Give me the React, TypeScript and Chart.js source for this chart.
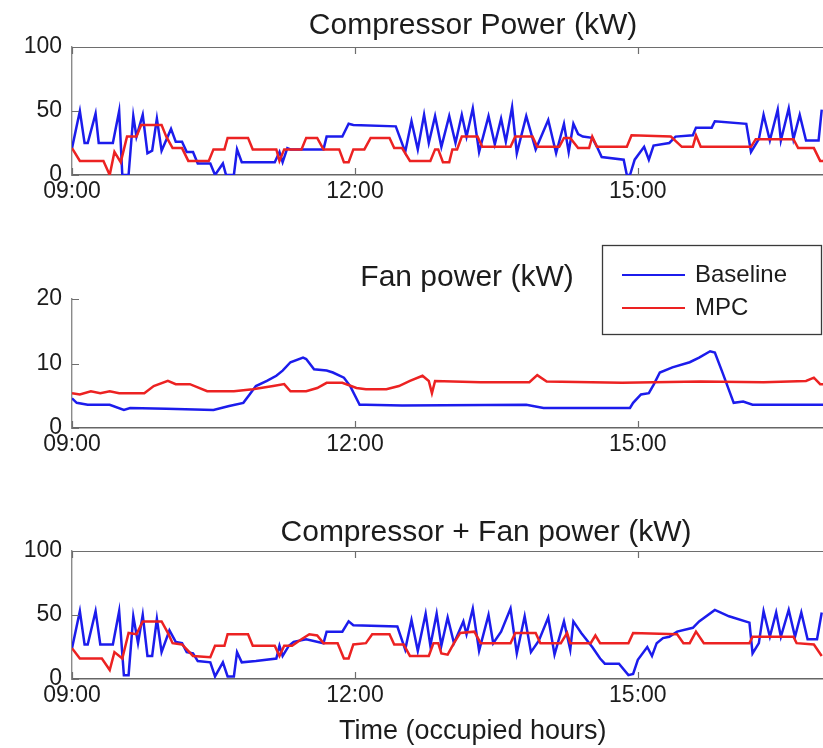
import React, { useEffect, useRef } from "react";
import { Chart, registerables } from "chart.js";

Chart.register(...registerables);

// ---------- data (x = minutes after 09:00, y = kW) ----------
const xTickValues = [0, 180, 360];
const xTickLabels = ["09:00", "12:00", "15:00"];
const seriesNames = ["Baseline", "MPC"];
const panelTitles = ["Compressor Power (kW)", "Fan power (kW)", "Compressor + Fan power (kW)"];
const xAxisTitle = "Time (occupied hours)";
const powerTicks = [0, 50, 100];
const fanTicks = [0, 10, 20];

const compBaseT = [0,5,8,10,15,17,26,30,32,36,39,41,45,48,51,54,57,63,66,70,73,77,80,88,91,96,98,103,105,108,129,132,134,137,139,160,162,172,176,179,206,212,216,220,224,227,231,235,240,244,248,251,255,259,265,269,273,276,280,283,289,295,303,308,313,316,319,322,325,331,334,337,351,353,355,358,364,367,370,380,384,395,397,407,409,429,432,437,440,444,449,451,456,459,463,467,475,477];
const compBaseV = [21,50,25,25,48,25,25,50,0,0,46,30,47,17,19,44,19,36,26,26,18,18,9,9,0,9,0,0,20,10,10,18,10,21,20,20,30,30,40,39,38,18,42,20,47,25,46,22,46,25,47,30,52,18,46,24,44,26,53,17,46,20,43,17,40,18,40,32,30,29,22,14,12,0,0,12,22,12,23,25,30,31,37,37,42,40,18,28,47,27,51,27,52,28,47,27,27,51];

const compMpcT = [0,5,20,24,27,31,35,41,44,57,60,64,70,74,87,90,97,99,112,115,130,132,135,146,149,156,160,170,173,176,179,186,190,202,205,210,215,228,231,233,236,240,242,245,248,258,261,279,282,293,296,310,313,317,322,329,331,334,353,356,381,388,395,397,400,432,435,459,462,472,476,478];
const compMpcV = [21,11,11,0,18,10,30,30,39,39,30,21,21,11,11,20,20,29,29,20,20,11,20,20,29,29,20,20,10,10,20,20,29,29,21,21,11,11,20,20,10,10,20,20,30,30,22,22,30,30,22,22,29,29,21,21,30,22,22,31,30,22,22,31,22,22,28,28,21,21,11,11];

const fanBaseT = [0,3,10,24,33,37,60,90,100,109,113,117,124,130,134,139,147,149,154,162,166,173,177,183,187,210,289,300,355,357,362,367,370,374,382,393,399,406,409,414,421,427,433,478];
const fanBaseV = [4.6,3.9,3.6,3.6,2.8,3.1,3.0,2.8,3.4,3.9,5.2,6.5,7.3,8.1,8.9,10.2,10.9,10.7,9.1,8.9,8.6,7.8,6.5,3.6,3.6,3.5,3.6,3.1,3.1,3.9,5.2,5.4,6.7,8.6,9.4,10.2,10.9,11.9,11.7,8.5,3.9,4.1,3.6,3.6];

const fanMpcT = [0,5,12,18,24,30,46,52,61,66,75,80,86,103,115,128,135,139,149,156,162,172,181,187,200,208,215,223,227,229,231,260,291,296,302,350,400,440,467,472,476,478];
const fanMpcV = [5.4,5.2,5.7,5.4,5.7,5.4,5.4,6.5,7.3,6.8,6.8,6.3,5.7,5.7,6.0,6.5,6.8,5.7,5.7,6.2,7.0,7.0,6.2,6.0,6.0,6.5,7.3,8.1,7.3,5.4,7.3,7.1,7.1,8.2,7.2,7.0,7.2,7.1,7.3,7.8,6.8,6.8];

const totBaseT = [0,5,8,10,15,18,26,30,33,36,39,42,45,48,51,54,57,62,66,70,73,77,80,88,91,96,99,103,105,108,117,130,132,134,138,141,149,160,162,172,176,179,207,212,216,220,225,228,232,235,239,243,249,251,255,259,265,268,273,279,283,288,292,297,303,307,313,317,319,324,331,336,339,348,354,357,360,366,369,372,376,380,385,395,399,409,418,431,433,437,440,444,448,451,456,460,464,468,474,477];
const totBaseV = [24,53,27,27,53,27,27,53,3,3,49,28,50,18,18,47,21,38,29,28,21,20,14,13,2,13,2,2,21,13,14,16,26,18,26,29,31,28,37,37,45,42,41,23,46,22,51,26,51,26,48,28,45,35,55,22,50,28,37,55,20,49,21,30,48,19,45,23,45,36,25,16,12,12,3,4,15,25,18,28,32,33,37,40,45,54,49,44,20,28,53,33,52,33,54,33,52,31,31,52];

const totMpcT = [0,5,19,24,27,32,36,41,45,57,61,64,70,77,88,91,97,99,112,115,129,132,135,140,146,151,156,160,169,173,176,179,187,191,202,205,211,215,227,230,233,235,239,243,247,256,260,279,282,295,298,311,315,317,330,333,336,354,357,385,389,393,397,402,431,433,459,461,472,477];
const totMpcV = [24,16,16,7,21,16,36,35,45,45,36,28,27,18,17,26,26,35,35,26,26,18,26,26,31,35,34,28,28,16,16,27,28,35,35,27,27,18,18,28,28,20,19,28,36,37,28,28,36,36,28,28,36,28,28,34,28,28,36,35,28,28,37,28,28,33,33,28,27,18];

// ---------- styles ----------
const BLUE = "rgb(28,28,236)";
const RED = "rgb(236,34,34)";
const FONT = "'Liberation Sans', Arial, Helvetica, sans-serif";
const TEXT = "#1c1c1c";
const CANVAS_W = 880;
const X_MAX = 510;

function pts(t: number[], v: number[]) {
  return t.map((x, i) => ({ x, y: v[i] }));
}

const matlabAxes = {
  id: "matlabAxes",
  afterDraw(chart: any, _args: any, opts: any) {
    const { ctx, chartArea: a, scales } = chart;
    ctx.save();
    ctx.strokeStyle = "#6e6e6e";
    ctx.lineWidth = 1.2;
    ctx.beginPath();
    scales.y.ticks.forEach((tk: any) => {
      const py = Math.round(scales.y.getPixelForValue(tk.value)) + 0.5;
      ctx.moveTo(a.left, py);
      ctx.lineTo(a.left + 7, py);
    });
    scales.x.ticks.forEach((tk: any) => {
      const px = Math.round(scales.x.getPixelForValue(tk.value)) + 0.5;
      ctx.moveTo(px, a.bottom);
      ctx.lineTo(px, a.bottom - 7);
      if (opts.box) {
        ctx.moveTo(px, a.top);
        ctx.lineTo(px, a.top + 7);
      }
    });
    if (opts.box) {
      ctx.moveTo(a.left, a.top + 0.5);
      ctx.lineTo(a.right, a.top + 0.5);
    }
    ctx.stroke();

    ctx.fillStyle = TEXT;
    ctx.font = `30px ${FONT}`;
    ctx.textAlign = "center";
    ctx.textBaseline = "alphabetic";
    ctx.fillText(opts.title, opts.titleX, opts.titleY);

    if (opts.legend) {
      const L = opts.legend;
      ctx.fillStyle = "#ffffff";
      ctx.fillRect(L.x, L.y, L.w, L.h);
      ctx.strokeStyle = "#3a3a3a";
      ctx.lineWidth = 1.3;
      ctx.strokeRect(L.x + 0.5, L.y + 0.5, L.w, L.h);
      chart.data.datasets.forEach((ds: any, i: number) => {
        const y = L.y + 30 + i * 33;
        ctx.strokeStyle = ds.borderColor;
        ctx.lineWidth = 2;
        ctx.beginPath();
        ctx.moveTo(L.x + 20, y);
        ctx.lineTo(L.x + 83, y);
        ctx.stroke();
        ctx.fillStyle = TEXT;
        ctx.font = `24px ${FONT}`;
        ctx.textAlign = "left";
        ctx.textBaseline = "middle";
        ctx.fillText(ds.label, L.x + 93, y);
      });
    }
    ctx.restore();
  },
};

type PanelCfg = {
  base: { x: number; y: number }[];
  mpc: { x: number; y: number }[];
  yTicks: number[];
  title: string;
  titleX: number;
  titleY: number;
  padTop: number;
  xAxisH: number;
  box: boolean;
  legend?: { x: number; y: number; w: number; h: number };
  xTitle?: string;
};

function makeConfig(p: PanelCfg): any {
  return {
    type: "line",
    data: {
      datasets: [
        { label: seriesNames[0], data: p.base, borderColor: BLUE, borderWidth: 2.5, pointRadius: 0, tension: 0, order: 2 },
        { label: seriesNames[1], data: p.mpc, borderColor: RED, borderWidth: 2.5, pointRadius: 0, tension: 0, order: 1 },
      ],
    },
    options: {
      animation: false,
      responsive: false,
      events: [],
      layout: { padding: { top: p.padTop, left: 0, right: CANVAS_W - 72 - 801.6, bottom: 0 } },
      plugins: {
        legend: { display: false },
        title: { display: false },
        tooltip: { enabled: false },
        matlabAxes: { title: p.title, titleX: p.titleX, titleY: p.titleY, box: p.box, legend: p.legend },
      },
      scales: {
        x: {
          type: "linear",
          min: 0,
          max: X_MAX,
          grid: { display: false, drawTicks: false },
          border: { display: true, color: "#666666", width: 1.4 },
          afterBuildTicks: (s: any) => {
            s.ticks = xTickValues.map((v) => ({ value: v }));
          },
          afterFit: (s: any) => {
            s.height = p.xAxisH;
          },
          ticks: {
            autoSkip: false,
            maxRotation: 0,
            padding: 3,
            color: TEXT,
            font: { family: FONT, size: 23 },
            callback: (v: number) => xTickLabels[xTickValues.indexOf(v)],
          },
          title: p.xTitle
            ? { display: true, text: p.xTitle, color: TEXT, font: { family: FONT, size: 27 }, padding: { top: 0, bottom: 0 } }
            : { display: false },
        },
        y: {
          type: "linear",
          min: p.yTicks[0],
          max: p.yTicks[p.yTicks.length - 1],
          grid: { display: false, drawTicks: false },
          border: { display: true, color: "#8a8a8a", width: 1.4 },
          afterBuildTicks: (s: any) => {
            s.ticks = p.yTicks.map((v) => ({ value: v }));
          },
          afterFit: (s: any) => {
            s.width = 72;
          },
          ticks: {
            padding: 10,
            color: TEXT,
            font: { family: FONT, size: 23 },
            callback: (v: number) => String(v),
          },
        },
      },
    },
    plugins: [matlabAxes],
  };
}

function Panel({ cfg, top, height }: { cfg: PanelCfg; top: number; height: number }) {
  const ref = useRef<HTMLCanvasElement | null>(null);
  useEffect(() => {
    const chart = new Chart(ref.current as HTMLCanvasElement, makeConfig(cfg));
    return () => chart.destroy();
  }, []);
  return (
    <canvas
      ref={ref}
      width={CANVAS_W}
      height={height}
      style={{ position: "absolute", left: 0, top, width: CANVAS_W, height }}
    />
  );
}

export default function App() {
  const p1: PanelCfg = {
    base: pts(compBaseT, compBaseV),
    mpc: pts(compMpcT, compMpcV),
    yTicks: powerTicks,
    title: panelTitles[0],
    titleX: 473,
    titleY: 34,
    padTop: 47,
    xAxisH: 40,
    box: true,
  };
  const p2: PanelCfg = {
    base: pts(fanBaseT, fanBaseV),
    mpc: pts(fanMpcT, fanMpcV),
    yTicks: fanTicks,
    title: panelTitles[1],
    titleX: 467,
    titleY: 46,
    padTop: 59,
    xAxisH: 40,
    box: false,
    legend: { x: 602, y: 5, w: 219, h: 89 },
  };
  const p3: PanelCfg = {
    base: pts(totBaseT, totBaseV),
    mpc: pts(totMpcT, totMpcV),
    yTicks: powerTicks,
    title: panelTitles[2],
    titleX: 486,
    titleY: 41,
    padTop: 51,
    xAxisH: 69,
    box: true,
    xTitle: xAxisTitle,
  };
  return (
    <div
      style={{
        position: "fixed",
        left: 0,
        top: 0,
        width: 823,
        height: 748,
        overflow: "hidden",
        background: "#ffffff",
      }}
    >
      <Panel cfg={p1} top={0} height={215} />
      <Panel cfg={p2} top={240} height={228} />
      <Panel cfg={p3} top={500} height={248} />
    </div>
  );
}
